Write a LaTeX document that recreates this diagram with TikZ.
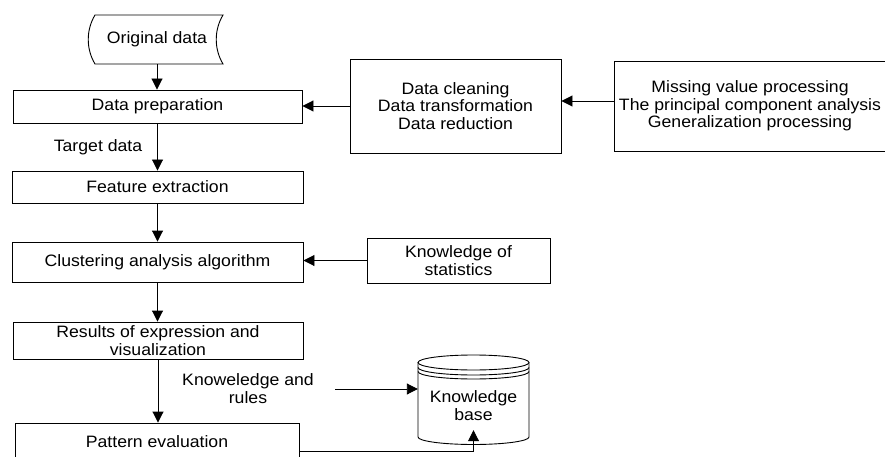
\documentclass[tikz,border=0pt]{standalone}
\usepackage{fontspec}
\setmainfont{Liberation Sans}[FakeStretch=1.07]
\usetikzlibrary{arrows.meta}

\tikzset{
  box/.style={draw, line width=0.9pt, align=center, inner sep=0pt},
  lbl/.style={align=center, inner sep=0.75pt},
  flow/.style={line width=0.9pt, -{Triangle[length=11pt,width=11pt]}},
}

\begin{document}
\begin{tikzpicture}[x=1pt,y=1pt,yscale=-1,xscale=1,font=\fontsize{16.5}{18}\selectfont]
        \useasboundingbox (0,0) rectangle (885,457);
        %Shape: Stored data
        \draw [line width=0.9pt] (95,15) -- (223,15) .. controls (214,30) and (214,49) .. (223,64) -- (95,64) .. controls (86,49) and (86,30) .. (95,15) -- cycle ;
        %Shape: Can
        \draw [line width=0.9pt] (473.5,362.5) ellipse [x radius=55.5, y radius=7.5] ;
        \foreach \y in {367.5,371.5}
          \draw [line width=0.9pt] (418,\y) .. controls (418,\y+4.14) and (442.85,\y+7.5) .. (473.5,\y+7.5) .. controls (504.15,\y+7.5) and (529,\y+4.14) .. (529,\y) ;
        \draw [line width=0.9pt] (418,362.5) -- (418,437) .. controls (418,441.14) and (442.85,444.5) .. (473.5,444.5) .. controls (504.15,444.5) and (529,441.14) .. (529,437) -- (529,362.5) ;
        % Boxes
        \node (orig) [lbl, minimum width=128, minimum height=49] at (157,39.5) {Original data};
        \node (prep) [box, minimum width=289, minimum height=33] at (157.5,106.5) {Data preparation};
        \node (clean) [box, minimum width=211, minimum height=94, font=\fontsize{16.5}{17.5}\selectfont] at (455.5,106) {Data cleaning\\Data transformation\\Data reduction};
        \node (miss) [box, minimum width=272, minimum height=90, font=\fontsize{16.5}{17.5}\selectfont] at (750,106) {Missing value processing\\The principal component analysis\\Generalization processing};
        \node (feat) [box, minimum width=291, minimum height=32] at (157.5,187) {Feature extraction};
        \node (clus) [box, minimum width=291, minimum height=40] at (157.5,262) {Clustering analysis algorithm};
        \node (stats) [box, minimum width=183, minimum height=45] at (458.5,260.5) {Knowledge of\\statistics};
        \node (res) [box, minimum width=290, minimum height=37] at (158,340.5) {Results of expression and\\visualization};
        \node (patt) [box, minimum width=284, minimum height=38] at (157,442) {Pattern evaluation};
        \node (kb) [lbl, minimum width=111, minimum height=48] at (473.5,406) {Knowledge\\base};
        % Text Node
        \node (tgt) [lbl] at (98,147) {Target data};
        % Text Node
        \node (rules) [lbl] at (248,389) {Knoweledge and\\rules};
        \coordinate (kin) at (335,389);
        %Straight Lines
        \draw [flow] (orig.south) -- (orig.south |- prep.north);
        \draw [flow] (clean.west) -- (clean.west -| prep.east);
        \draw [flow] ([yshift=-5pt]miss.west) -- ([yshift=-5pt]miss.west -| clean.east);
        \draw [flow] (prep.south) -- (feat.north);
        \draw [flow] (feat.south) -- (clus.north);
        \draw [flow] (stats.west) -- (stats.west -| clus.east);
        \draw [flow] (clus.south) -- (clus.south |- res.north);
        \draw [flow] (res.south) -- (res.south |- patt.north);
        \draw [flow] (kin) -- (kin -| kb.west);
        \draw [flow] ([yshift=9pt]patt.east) -| (kb.south);
\end{tikzpicture}
\end{document}
